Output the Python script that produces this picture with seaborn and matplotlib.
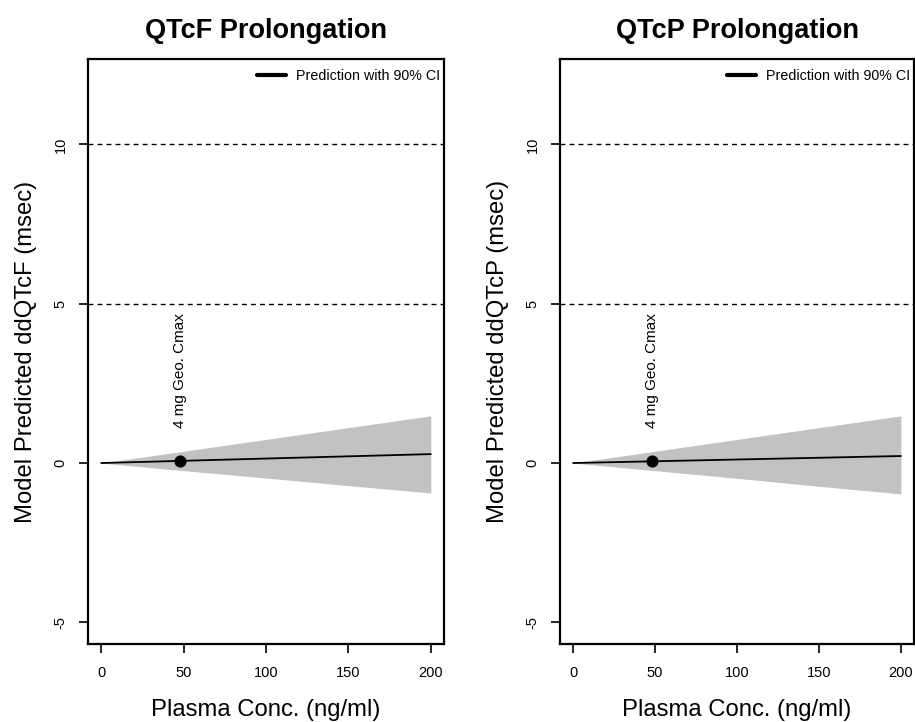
import matplotlib
matplotlib.use("Agg")
import matplotlib.pyplot as plt
from matplotlib.lines import Line2D
import numpy as np
import pandas as pd
import seaborn as sns

# Concentration grid and model predictions (msec)
conc = [0, 50, 100, 150, 200]

qtcf_mean = [0.0, 0.07, 0.14, 0.21, 0.28]
qtcf_lower = [0.0, -0.24, -0.47, -0.71, -0.94]
qtcf_upper = [0.0, 0.37, 0.74, 1.11, 1.48]

qtcp_mean = [0.0, 0.055, 0.11, 0.165, 0.22]
qtcp_lower = [0.0, -0.24, -0.48, -0.73, -0.97]
qtcp_upper = [0.0, 0.37, 0.74, 1.11, 1.48]

# Geometric mean Cmax at 4 mg and its predicted effect
cmax_conc = [48]
qtcf_cmax = [0.07]
qtcp_cmax = [0.05]

titles = ["QTcF Prolongation", "QTcP Prolongation"]
ylabels = ["Model Predicted ddQTcF (msec)", "Model Predicted ddQTcP (msec)"]
xlabel = "Plasma Conc. (ng/ml)"
cmax_label = "4 mg Geo. Cmax"
legend_label = "Prediction with 90% CI"
ref_lines = [5, 10]
xticks = [0, 50, 100, 150, 200]
yticks = [-5, 0, 5, 10]

sns.set_style("white")
plt.rcParams["font.family"] = ["Liberation Sans", "DejaVu Sans"]
plt.rcParams.update({
    "text.color": "black",
    "axes.labelcolor": "black",
    "xtick.color": "black",
    "ytick.color": "black",
})

fig = plt.figure(figsize=(9.15, 7.22), dpi=100)
axes = [
    fig.add_axes([88 / 915, 78 / 722, 356 / 915, 585 / 722]),
    fig.add_axes([560 / 915, 78 / 722, 354 / 915, 585 / 722]),
]

panels = [
    (qtcf_mean, qtcf_lower, qtcf_upper, qtcf_cmax),
    (qtcp_mean, qtcp_lower, qtcp_upper, qtcp_cmax),
]

for ax, (mean, lo, hi, cm), title, ylab in zip(axes, panels, titles, ylabels):
    df = pd.DataFrame({"conc": conc, "mean": mean, "lower": lo, "upper": hi})
    ax.fill_between(df["conc"], df["lower"], df["upper"], color="#c2c2c2", lw=0, zorder=1)
    sns.lineplot(data=df, x="conc", y="mean", ax=ax, color="black", lw=1.3, zorder=3)
    pt = pd.DataFrame({"conc": cmax_conc, "val": cm})
    sns.scatterplot(data=pt, x="conc", y="val", ax=ax, color="black", s=65,
                    edgecolor="black", zorder=4)
    ax.text(cmax_conc[0], 1.1, cmax_label, rotation=90, ha="center", va="bottom",
            fontsize=11, zorder=5)
    for r in ref_lines:
        ax.axhline(r, color="black", lw=1.0, ls=(0, (3.5, 3)), zorder=2)

    ax.set_xlim(-8, 208)
    ax.set_ylim(-5.68, 12.68)
    ax.set_xticks(xticks)
    ax.set_yticks(yticks)
    ax.set_xticklabels([str(t) for t in xticks], fontsize=10.5)
    ax.set_yticklabels([str(t) for t in yticks], fontsize=10.5, rotation=90, va="center")
    ax.tick_params(axis="x", direction="out", length=6.5, width=1.2, color="black",
                   bottom=True, pad=9)
    ax.tick_params(axis="y", direction="out", length=6.5, width=1.2, color="black",
                   left=True, pad=8)
    for s in ax.spines.values():
        s.set_linewidth(1.6)
        s.set_color("black")
    ax.set_xlabel(xlabel, fontsize=17.2, labelpad=14)
    ax.set_ylabel(ylab, fontsize=17.2, labelpad=12)
    ax.set_title(title, fontsize=19.5, fontweight="bold", pad=15)

    handle = Line2D([], [], color="black", lw=3)
    ax.legend([handle], [legend_label], loc="upper right", bbox_to_anchor=(1.0, 0.99),
              frameon=False, fontsize=10.3, handlelength=2.0, handletextpad=0.7,
              borderaxespad=0, borderpad=0.3)

fig.savefig("out.png", dpi=100, facecolor="white")
